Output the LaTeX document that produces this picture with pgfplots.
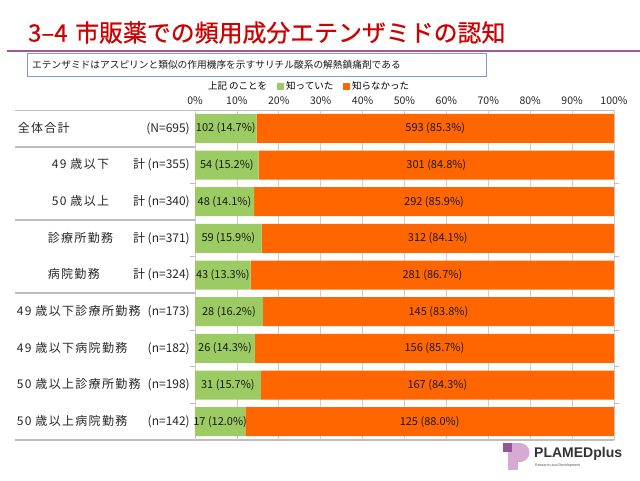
\documentclass[border=0pt]{standalone}
\usepackage{pgfplots}
\pgfplotsset{compat=1.18}
\usepackage{pgfplotstable}
\usepackage{fontspec}
\setmainfont{Noto Sans CJK JP}
\newfontfamily\lbfont[LetterSpace=11]{Noto Sans CJK JP}
\newfontfamily\ttlfont[FakeBold=0.7]{Noto Sans CJK JP}
\newfontfamily\logofont{Liberation Sans}
\definecolor{kgreen}{RGB}{155,203,98}
\definecolor{korange}{RGB}{255,102,0}
\definecolor{ttlred}{RGB}{208,0,0}
\definecolor{purp}{RGB}{165,85,155}
\definecolor{boxblue}{RGB}{125,155,210}
\definecolor{gridg}{RGB}{205,205,205}
\definecolor{sepg}{RGB}{190,190,190}
\definecolor{logol}{RGB}{215,170,212}
\definecolor{logod}{RGB}{150,85,150}

\pgfplotstableread[col sep=comma]{
row,kp,up,kc,uc,klab,ulab
0,14.7,85.3,7.35,57.35,102 (14.7\%),593 (85.3\%)
1,15.2,84.8,7.6,57.6,54 (15.2\%),301 (84.8\%)
2,14.1,85.9,7.05,57.05,48 (14.1\%),292 (85.9\%)
3,15.9,84.1,7.95,57.95,59 (15.9\%),312 (84.1\%)
4,13.3,86.7,6.65,56.65,43 (13.3\%),281 (86.7\%)
5,16.2,83.8,8.1,58.1,28 (16.2\%),145 (83.8\%)
6,14.3,85.7,7.15,57.15,26 (14.3\%),156 (85.7\%)
7,15.7,84.3,7.85,57.85,31 (15.7\%),167 (84.3\%)
8,12.0,88.0,6.0,56.0,17 (12.0\%),125 (88.0\%)
}\data

\newcommand\lbl[3]{\makebox[180pt][l]{\hspace*{#1}{\lbfont #2}\hfill#3\hspace*{5pt}}}

\begin{document}
\begin{tikzpicture}
\begin{scope}[x=1pt,y=1pt]
\path[fill=white,use as bounding box] (0,0) rectangle (640,480);
% title
\node[anchor=west,text=ttlred,font=\ttlfont\fontsize{23.9}{24}\selectfont,inner sep=0pt] at (28,447.5) {\makebox[47pt][l]{3–4}市販薬での頻用成分エテンザミドの認知};
\draw[purp,line width=2pt] (7,429.3) -- (640,429.3);
\draw[boxblue,line width=1pt] (27,403.5) rectangle (486,426.5);
\node[anchor=west,font=\fontsize{9.7}{10}\selectfont,inner sep=0pt,text=black!90] at (32,415) {エテンザミドはアスピリンと類似の作用機序を示すサリチル酸系の解熱鎮痛剤である};
% separator lines
\draw[sepg,line width=1.2pt] (15,369.5) -- (614,369.5);
\draw[sepg,line width=1.2pt] (15,40) -- (614,40);
\draw[sepg,line width=1.2pt] (15,333) -- (195,333);
\draw[sepg,line width=1.2pt] (15,260) -- (195,260);
\draw[sepg,line width=1.2pt] (15,187) -- (195,187);
% logo
\fill[logol] (508,10) rectangle (518,37);
\fill[logol] (512,37) -- (520,37) arc[start angle=90,end angle=-90,radius=9.5] -- (512,18) -- cycle;
\fill[logod] (503,28) rectangle (512,37);
\node[anchor=west,inner sep=0pt,font=\logofont\bfseries\fontsize{14}{14}\selectfont,text=black!80] at (534,26.5) {PLAMEDplus};
\node[anchor=west,inner sep=0pt,font=\logofont\fontsize{3.6}{4}\selectfont,text=black!70] at (535,14.5) {Research and Development};
\end{scope}

\begin{axis}[
  at={(195pt,40pt)}, anchor=south west, scale only axis,
  width=419pt, height=330pt,
  xbar stacked, bar width=29pt,
  xmin=0, xmax=100, ymin=-0.5, ymax=8.5, y dir=reverse,
  axis line style={draw=none},
  xtick={0,10,...,100},
  xticklabels={0\%,10\%,20\%,30\%,40\%,50\%,60\%,70\%,80\%,90\%,100\%},
  xticklabel pos=upper,
  xticklabel style={font=\fontsize{10.5}{10.5}\selectfont,text=black!85,inner sep=1pt,yshift=4.5pt},
  xtick style={draw=none},
  xmajorgrids, grid style={gridg,line width=0.8pt},
  ytick={0,...,8},
  ytick style={draw=none},
  yticklabels={
    {\lbl{3pt}{全体合計}{(N=695)}},
    {\lbl{37pt}{49 歳以下}{計 (n=355)}},
    {\lbl{37pt}{50 歳以上}{計 (n=340)}},
    {\lbl{33pt}{診療所勤務}{計 (n=371)}},
    {\lbl{33pt}{病院勤務}{計 (n=324)}},
    {\lbl{2pt}{49 歳以下診療所勤務}{(n=173)}},
    {\lbl{2pt}{49 歳以下病院勤務}{(n=182)}},
    {\lbl{2pt}{50 歳以上診療所勤務}{(n=198)}},
    {\lbl{2pt}{50 歳以上病院勤務}{(n=142)}}},
  yticklabel style={anchor=east,inner sep=0pt,font=\fontsize{12}{12}\selectfont,text=black!85},
  extra y ticks={1.5,3.5,5.5,6.5,7.5},
  extra y tick labels={},
  extra y tick style={ytick style={draw=sepg,line width=1pt},tick align=outside,major tick length=5pt,ymajorgrids=false,xmajorgrids=false},
  legend style={at={(0.026,1.072)},anchor=west,draw=none,fill=none,inner sep=0pt,
    font=\fontsize{9.5}{9.5}\selectfont,
    /tikz/every even column/.append style={column sep=8pt}},
  legend columns=-1,
  legend image code/.code={\fill[#1] (0pt,-3.5pt) rectangle (7pt,3.5pt);},
]
\addlegendimage{empty legend}
\addlegendentry{上記 のことを\hspace{49pt}}
\addplot[fill=kgreen,draw=none] table[x=kp,y=row]{\data};
\addlegendentry{知っていた}
\addplot[fill=korange,draw=none] table[x=up,y=row]{\data};
\addlegendentry{知らなかった}
\end{axis}

\begin{axis}[
  at={(195pt,40pt)}, anchor=south west, scale only axis,
  width=419pt, height=330pt,
  xmin=0, xmax=100, ymin=-0.5, ymax=8.5, y dir=reverse,
  hide axis, clip=false,
]
\addplot[draw=none,mark=none,point meta=explicit symbolic,
  nodes near coords,
  every node near coord/.append style={anchor=center,font=\fontsize{11}{11}\selectfont,text=black!90}]
  table[x=kc,y=row,meta=klab]{\data};
\addplot[draw=none,mark=none,point meta=explicit symbolic,
  nodes near coords,
  every node near coord/.append style={anchor=center,font=\fontsize{11}{11}\selectfont,text=black!90}]
  table[x=uc,y=row,meta=ulab]{\data};
\end{axis}
\end{tikzpicture}
\end{document}
